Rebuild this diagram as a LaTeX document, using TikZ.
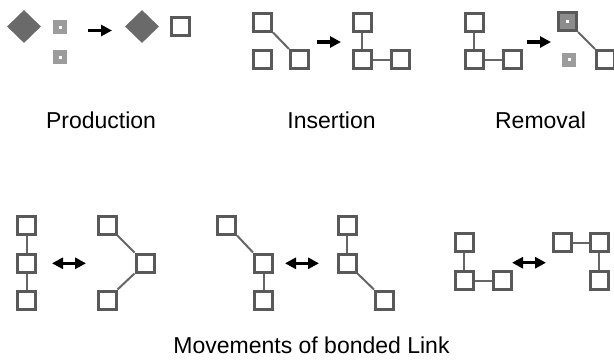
\documentclass[tikz,border=0pt]{standalone}
\usepackage{fontspec}
\setmainfont{Liberation Sans}
\usetikzlibrary{shapes.geometric,arrows.meta}
\definecolor{sqc}{HTML}{595959}
\definecolor{linkc}{HTML}{666666}
\definecolor{dia}{HTML}{6A6A6A}
\definecolor{ghost}{HTML}{9C9C9C}
\definecolor{ghostb}{HTML}{8C8C8C}
\tikzset{
  sq/.style={draw=sqc, line width=3pt, minimum size=18pt, inner sep=0pt, fill=white},
  gsq/.style={draw=sqc, line width=3pt, minimum size=18pt, inner sep=0pt, fill=ghostb},
  small/.style={fill=ghost, minimum size=14pt, inner sep=0pt},
  dot/.style={fill=white, minimum size=3pt, inner sep=0pt},
  dmd/.style={diamond, fill=dia, minimum width=34pt, minimum height=33pt, inner sep=0pt},
  link/.style={draw=linkc, line width=2pt},
  onearrow/.style={line width=3.5pt, -{Triangle[length=11pt,width=11pt]}},
  twoarrow/.style={line width=3.5pt, {Triangle[length=11pt,width=11pt]}-{Triangle[length=11pt,width=11pt]}},
  lbl/.style={font=\fontsize{23}{27}\selectfont, anchor=base, inner sep=0pt}
}
\begin{document}
\begin{tikzpicture}[x=1pt,y=-1pt]
\useasboundingbox (0,0) rectangle (614,360);
\clip (0,0) rectangle (614,360);
% ---- Production
\node[dmd] (pd1) at (24,26.5) {};
\node[small] (ps1) at (60,27) {};
\node[dot] (ps1d) at (ps1) {};
\node[small] (ps2) at (60,57) {};
\node[dot] (ps2d) at (ps2) {};
\coordinate (pa1) at (88,30.5);
\coordinate (pa2) at (112,30.5);
\draw[onearrow] (pa1) -- (pa2);
\node[dmd] (pd2) at (142,26.5) {};
\node[sq] (pn) at (180,26.5) {};
% ---- Insertion
\node[sq] (ia) at (262.5,22) {};
\node[sq] (ib) at (262.5,59.5) {};
\node[sq] (ic) at (299.5,59.5) {};
\draw[link] (ia.south east) -- (ic.north west);
\coordinate (ia1) at (317,42);
\coordinate (ia2) at (341,42);
\draw[onearrow] (ia1) -- (ia2);
\node[sq] (id) at (362,22) {};
\node[sq] (ie) at (362,59.5) {};
\node[sq] (if) at (400,59.5) {};
\draw[link] (id) -- (ie);
\draw[link] (ie) -- (if);
% ---- Removal
\node[sq] (ra) at (474,22) {};
\node[sq] (rb) at (474,59.5) {};
\node[sq] (rc) at (512,59.5) {};
\draw[link] (ra) -- (rb);
\draw[link] (rb) -- (rc);
\coordinate (ra1) at (527,42);
\coordinate (ra2) at (551,42);
\draw[onearrow] (ra1) -- (ra2);
\node[gsq] (rd) at (567.5,21.5) {};
\node[dot] (rdd) at (rd) {};
\node[small] (re) at (569,59.5) {};
\node[dot] (red) at (re) {};
\node[sq] (rf) at (605.5,59.5) {};
\draw[link] (rd.south east) -- (rf.north west);
% ---- labels top
\node[lbl] (l1) at (101,128) {Production};
\node[lbl] (l2) at (331.5,128) {Insertion};
\node[lbl] (l3) at (540.5,128) {Removal};
% ---- Movement 1
\node[sq] (ma) at (26.5,225) {};
\node[sq] (mb) at (26.5,263) {};
\node[sq] (mc) at (26.5,300) {};
\draw[link] (ma) -- (mb);
\draw[link] (mb) -- (mc);
\coordinate (ma1) at (52,263.3);
\coordinate (ma2) at (86,263.3);
\draw[twoarrow] (ma1) -- (ma2);
\node[sq] (md) at (107,225) {};
\node[sq] (me) at (145,263) {};
\node[sq] (mf) at (107,300) {};
\draw[link] (md.south east) -- (me.north west);
\draw[link] (me.south west) -- (mf.north east);
% ---- Movement 2
\node[sq] (na) at (226.5,225) {};
\node[sq] (nb) at (263.5,263) {};
\node[sq] (nc) at (263.5,300) {};
\draw[link] (na.south east) -- (nb.north west);
\draw[link] (nb) -- (nc);
\coordinate (na1) at (285,263.3);
\coordinate (na2) at (319,263.3);
\draw[twoarrow] (na1) -- (na2);
\node[sq] (nd) at (347,225) {};
\node[sq] (ne) at (347,263) {};
\node[sq] (nf) at (384.5,300) {};
\draw[link] (nd) -- (ne);
\draw[link] (ne.south east) -- (nf.north west);
% ---- Movement 3
\node[sq] (oa) at (464,242.5) {};
\node[sq] (ob) at (464,280.5) {};
\node[sq] (oc) at (502,280.5) {};
\draw[link] (oa) -- (ob);
\draw[link] (ob) -- (oc);
\coordinate (oa1) at (512,262.7);
\coordinate (oa2) at (546,262.7);
\draw[twoarrow] (oa1) -- (oa2);
\node[sq] (od) at (562.5,242.5) {};
\node[sq] (oe) at (599,242.5) {};
\node[sq] (of) at (599,280.5) {};
\draw[link] (od) -- (oe);
\draw[link] (oe) -- (of);
% ---- bottom label
\node[lbl] (l4) at (311.5,353) {Movements of bonded Link};
\end{tikzpicture}
\end{document}
